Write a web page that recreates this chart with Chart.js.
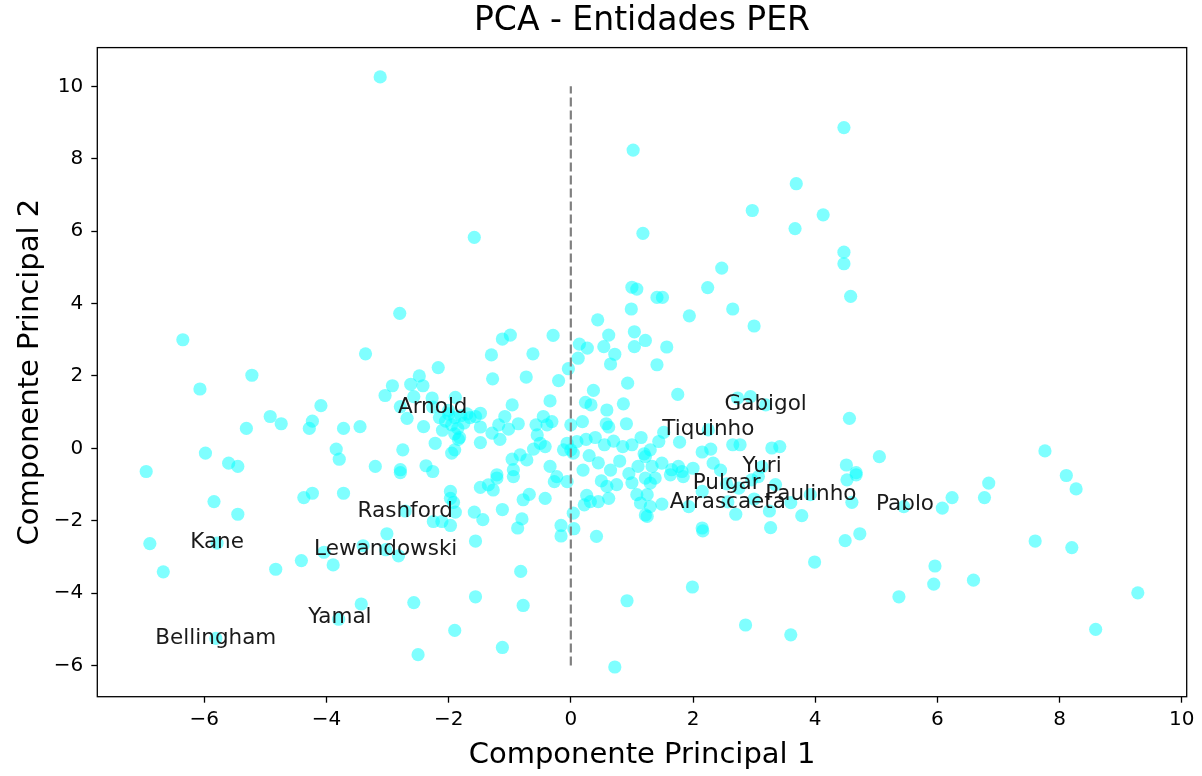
<!DOCTYPE html>
<html>
<head>
<meta charset="utf-8">
<script src="https://cdn.jsdelivr.net/npm/chart.js@4.4.1/dist/chart.umd.min.js"></script>
<style>
  html, body { margin: 0; padding: 0; background: #ffffff; }
  #wrap { width: 1202px; height: 776px; }
</style>
</head>
<body>
<div id="wrap"><canvas id="pca" width="1202" height="776"></canvas></div>
<script>
// First principal component of each entity
const pc1 = [
  -3.12, 1.02, -1.58, 1.18, 4.47, 3.69, 2.97, 4.13, 3.67, 4.47, 4.47, 4.58, 2.47, 2.24, 1.41, 1.50,
  1.94, 2.65, 3.00, 1.22, 1.57, 1.41, 1.75, 2.73, 2.94, 4.56, 1.52, 1.78, 2.15, 2.29, 2.33, 2.65,
  2.77, 3.29, 3.42, 5.05, 4.51, 4.67, 7.76, 8.11, 6.84, 6.77, 6.24, 6.08, 8.27, 7.60, 8.20, 5.96,
  5.94, 6.59, 9.28, 8.59, 5.45,
  -6.35, -3.36, -6.07, -5.22, -4.09, -4.92, -4.74, -5.31, -4.23, -4.28, -3.72, -3.45, -5.98, -5.60,
  -5.45, -6.95, -3.84, -3.79, -3.20, -5.84, -5.45, -4.37, -4.23, -3.72, -6.89, -6.67, -4.83, -4.41,
  -4.04, -3.89, -3.40, -3.43, -3.80, -5.81, -5.79,
  -3.01, -2.82, -2.57, -2.50, -1.90, -1.56, -1.12, -0.82, -0.78, 0.92, 0.72, -1.56, -0.16, -0.16,
  0.05, 0.42, -0.87, -0.80, -1.12, -1.44, -1.58, -1.97, -1.97, -1.92, -1.89, -1.97, -2.11, -2.25,
  -1.48, -1.35, -1.27, -1.21, -0.78, -0.68, -0.42, -0.27, 0.04, 0.26, 0.32, 0.45, 0.62, 0.22,
  0.59, 1.08, 1.14, 1.22, -0.94, -0.06, -2.71, -3.03,
  -2.80, -2.17, -2.48, -2.62, -2.42, -2.92, -3.04, -1.30, -1.12, -0.99, -0.29, -0.62, -1.28, -0.73,
  -0.20, -0.04, 0.14, 0.27, 0.12, 0.44, 1.00, 1.08, 0.99, 1.04, 1.04, 0.62, 0.54, 0.72, 0.65, 0.93,
  0.37, 0.24, 0.33, 0.59, 0.86, 0.91, 0.58, 0.62, 0.19, -0.34, -0.96, -1.08, -0.86, -1.18, -1.02,
  -1.29, -1.16, -1.48, -1.56, -1.48, -1.48, -1.89, -2.27, -2.41, -2.68, -2.57, -2.79,
  -2.00, -1.90, -1.80, -1.70, -1.65, -2.05, -1.95, -1.85, -1.75, -2.10, -1.90, -1.82, -2.00, -2.15,
  -2.26, -2.22, -2.75, -2.79, -2.79, -2.37, -2.26, -1.90, -1.84, -1.95, -0.96, -0.83, -0.72,
  -0.94, -1.21, -0.57, -0.45, -0.39, -0.31, -0.55, -0.50, -0.61, -0.42, -0.34, -0.23, -0.06, 0.00,
  -0.12, 0.04, 0.10, 0.00,
  0.25, 0.40, 0.55, 0.70, 0.85, 1.00, 1.15, 0.30, 0.45, 0.65, 0.80, 0.95, 1.10, 0.50, 0.75, 1.00,
  1.20, 0.20, 1.30, 1.44, 1.22, 1.33, 1.49, 1.65, 1.76, 1.82, 1.22, 1.30, 1.38, 1.25, 1.30, 1.25,
  1.49, 1.84, 1.63, 1.93, 2.15, 2.16, 2.15, 2.70, 2.96, 3.07, 3.25, 3.27, 3.78, 3.92, 4.52, 4.67,
  4.60, 4.49, 4.73, 3.99, 1.99, 2.86, 3.60, 5.37,
  3.19, 2.25, 3.13, 2.55, 2.57, 2.00, 2.45, 2.75, 3.00, 3.35, 3.60
];

// Second principal component of each entity
const pc2 = [
  10.26, 8.24, 5.83, 5.94, 8.86, 7.31, 6.57, 6.45, 6.07, 5.42, 5.10, 4.20, 4.98, 4.44, 4.17, 4.17,
  3.66, 3.85, 3.38, 2.98, 2.80, 2.31, 1.49, 1.39, 1.43, 0.83, 0.44, 0.17, -0.10, -0.02, -0.41, 0.10,
  0.10, 0.01, 0.05, -0.23, -0.46, -0.67, -0.07, -0.75, -0.96, -1.36, -1.36, -1.65, -1.12, -2.56, -2.74, -3.25,
  -3.75, -3.64, -3.99, -5.00, -1.61,
  3.00, 2.61, 1.64, 2.02, 1.18, 0.88, 0.68, 0.55, 0.75, 0.55, 0.55, 0.60, -0.13, -0.41,
  -0.50, -0.64, -0.02, -0.30, -0.50, -1.47, -1.82, -1.36, -1.24, -1.24, -2.63, -3.41, -3.34, -3.10,
  -2.87, -3.22, -2.69, -4.30, -4.72, -5.25, -2.62,
  -2.36, -2.97, -4.26, -5.70, -5.03, -4.10, -5.50, -3.40, -4.34, -4.21, -6.04, -2.56, -2.42, -2.13,
  -2.22, -2.43, -2.20, -1.95, -1.69, -1.97, -1.76, -1.19, -1.38, -1.49, -1.76, -2.13, -2.02, -2.02,
  -1.08, -1.01, -1.15, -0.82, -1.42, -1.27, -1.38, -0.92, -1.79, -1.30, -1.47, -1.47, -1.38, -1.56,
  -1.05, -1.28, -1.51, -1.84, -0.78, -0.92, -1.73, -2.80,
  3.73, 2.23, 2.00, 1.77, 1.73, 1.73, 1.46, 2.58, 3.02, 3.13, 3.12, 2.61, 1.92, 1.97,
  1.87, 2.20, 2.88, 2.77, 2.49, 3.55, 4.45, 4.40, 3.85, 3.22, 2.81, 3.13, 2.81, 2.60, 2.33, 1.80,
  1.60, 1.27, 1.20, 1.06, 1.23, 0.68, 0.68, 0.59, 0.74, 1.31, 1.20, 0.88, 0.68, 0.65, 0.53,
  0.42, 0.25, 0.97, 0.88, 0.59, 0.16, 1.41, 1.39, 0.60, 0.83, 1.43, 1.15,
  0.95, 0.85, 0.90, 0.95, 0.85, 0.75, 0.65, 0.55, 0.70, 0.50, 0.40, 0.30, 1.05, 0.85,
  1.14, 0.14, -0.04, -0.59, -0.67, -0.48, -0.64, -0.04, 0.25, -0.13, -0.30, -0.18, -0.32,
  -0.59, -0.73, 0.65, 0.88, 0.65, 0.74, 0.37, 0.14, -0.02, 0.05, -0.50, -0.78, 0.14, -0.04,
  -0.04, -0.13, 0.19, 0.65,
  0.25, 0.30, 0.10, 0.20, 0.05, 0.10, 0.30, -0.20, -0.40, -0.60, -0.35, -0.70, -0.50, -0.90, -1.00, -0.95,
  -0.15, -0.60, -0.04, 0.19, -0.23, -0.50, -0.41, -0.59, -0.50, -0.64, -0.82, -0.96, -0.82, -1.28, -1.61, -1.88,
  -1.54, -0.78, -0.73, -1.61, -2.20, -2.28, -1.19, -1.82, -0.87, -0.78, -1.73, -2.19, -1.86, -1.28, -0.87, -0.73,
  -1.49, -2.55, -2.36, -3.14, -3.83, -4.88, -5.15, -4.10,
  1.20, 0.51, -0.51, -0.98, -1.48, -0.55, -0.60, -1.10, -1.40, -1.00, -1.50
];

// Named entities and where their names sit
const labelNames = ['Arnold', 'Gabigol', 'Tiquinho', 'Yuri', 'Pulgar', 'Arrascaeta', 'Paulinho',
                    'Pablo', 'Rashford', 'Lewandowski', 'Kane', 'Yamal', 'Bellingham'];
const labelX = [-2.26, 3.19, 2.25, 3.13, 2.55, 2.57, 3.93, 5.47, -2.71, -3.03, -5.79, -3.78, -5.81];
const labelY = [1.14, 1.20, 0.51, -0.51, -0.98, -1.48, -1.28, -1.56, -1.73, -2.80, -2.61, -4.68, -5.26];

// Axis ticks and the vertical reference line at PC1 = 0
const xTicks = [-6, -4, -2, 0, 2, 4, 6, 8, 10];
const yTicks = [-6, -4, -2, 0, 2, 4, 6, 8, 10];
const refLineY = [-6, 10];

const FONT = "'DejaVu Sans', 'Liberation Sans', sans-serif";
const fmt = v => (v < 0 ? '\u2212' + Math.abs(v) : String(v));

// Four-sided frame around the plotting area
const frame = {
  id: 'frame',
  afterDatasetsDraw(chart) {
    const {ctx, chartArea: a} = chart;
    ctx.save();
    ctx.strokeStyle = '#000';
    ctx.lineWidth = 1.3;
    ctx.strokeRect(a.left, a.top, a.right - a.left, a.bottom - a.top);
    ctx.restore();
  }
};

// Entity names centred on their points
const names = {
  id: 'names',
  afterDatasetsDraw(chart) {
    const {ctx, scales: {x, y}} = chart;
    ctx.save();
    ctx.font = '21.5px ' + FONT;
    ctx.fillStyle = '#1a1a1a';
    ctx.textAlign = 'center';
    ctx.textBaseline = 'middle';
    labelNames.forEach((n, i) => {
      ctx.fillText(n, x.getPixelForValue(labelX[i]), y.getPixelForValue(labelY[i]));
    });
    ctx.restore();
  }
};

const tickGrid = {
  drawOnChartArea: false, drawTicks: true, tickLength: 6, tickWidth: 1.3, tickColor: '#000'
};

new Chart(document.getElementById('pca'), {
  type: 'scatter',
  data: {
    datasets: [
      {
        type: 'line',
        data: refLineY.map(v => ({x: 0, y: v})),
        showLine: true,
        borderColor: '#808080',
        borderWidth: 2.2,
        borderDash: [9, 4],
        pointRadius: 0,
        order: 0
      },
      {
        data: pc1.map((v, i) => ({x: v, y: pc2[i]})),
        backgroundColor: 'rgba(0,255,255,0.5)',
        borderWidth: 0,
        pointRadius: 6.6,
        pointHoverRadius: 6.6,
        order: 1
      }
    ]
  },
  options: {
    responsive: false,
    animation: false,
    devicePixelRatio: 1,
    layout: { padding: { right: 15.3, left: 0, bottom: 0, top: 0 } },
    plugins: {
      legend: { display: false },
      tooltip: { enabled: false },
      title: {
        display: true,
        fullSize: false,
        text: 'PCA - Entidades PER',
        color: '#000',
        font: { family: FONT, size: 33, weight: 'normal', lineHeight: 1.2 },
        padding: { top: 2, bottom: 6 }
      }
    },
    scales: {
      x: {
        type: 'linear',
        min: -7.75,
        max: 10.08,
        afterBuildTicks: s => { s.ticks = xTicks.map(v => ({value: v})); },
        afterFit: s => { s.height = 79.3; },
        grid: tickGrid,
        border: { display: false },
        ticks: {
          color: '#000', padding: 5, maxRotation: 0, autoSkip: false,
          font: { family: FONT, size: 20 },
          callback: v => fmt(v)
        },
        title: {
          display: true, text: 'Componente Principal 1', color: '#000',
          font: { family: FONT, size: 29, lineHeight: 1.2 },
          padding: { top: 0, bottom: 3.5 }
        }
      },
      y: {
        type: 'linear',
        min: -6.86,
        max: 11.07,
        afterBuildTicks: s => { s.ticks = yTicks.map(v => ({value: v})); },
        afterFit: s => { s.width = 97.3; },
        grid: tickGrid,
        border: { display: false },
        ticks: {
          color: '#000', padding: 8, autoSkip: false,
          font: { family: FONT, size: 20 },
          callback: v => fmt(v)
        },
        title: {
          display: true, text: 'Componente Principal 2', color: '#000',
          font: { family: FONT, size: 29, lineHeight: 1.2 },
          padding: { top: 12.6, bottom: 0 }
        }
      }
    }
  },
  plugins: [frame, names]
});
</script>
</body>
</html>
